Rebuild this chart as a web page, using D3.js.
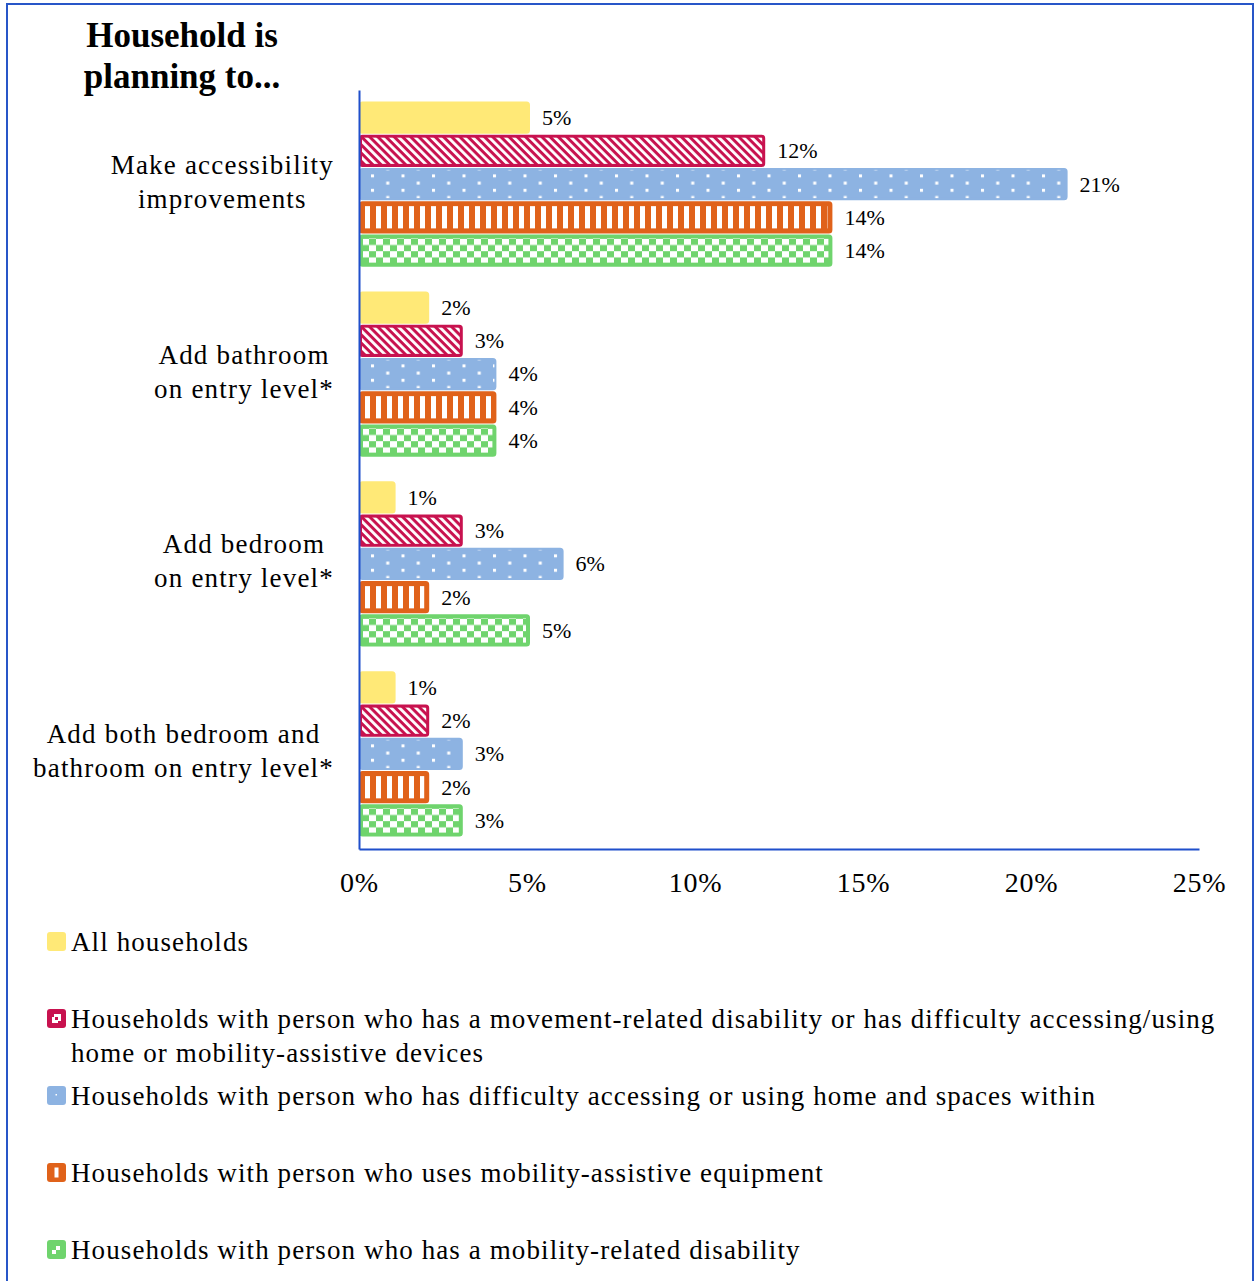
<!DOCTYPE html>
<html>
<head>
<meta charset="utf-8">
<script src="https://cdn.jsdelivr.net/npm/d3@7"></script>
<style>
  html, body { margin: 0; padding: 0; background: #fff; }
  svg { display: block; }
  text { font-family: "Liberation Serif", "Times New Roman", serif; fill: #000; }
</style>
</head>
<body>
<svg id="chart" width="1255" height="1281"></svg>
<script>
// Categories (line breaks marked with "\n")
const categories = [
  "Make accessibility\nimprovements",
  "Add bathroom\non entry level*",
  "Add bedroom\non entry level*",
  "Add both bedroom and\nbathroom on entry level*"
];

const seriesNames = [
  "All households",
  "Households with person who has a movement-related disability or has difficulty accessing/using home or mobility-assistive devices",
  "Households with person who has difficulty accessing or using home and spaces within",
  "Households with person who uses mobility-assistive equipment",
  "Households with person who has a mobility-related disability"
];

// Percent of households planning each change
const allHouseholds   = [5, 2, 1, 1];
const movementOrUse   = [12, 3, 3, 2];
const difficultyHome  = [21, 4, 6, 3];
const assistiveEquip  = [14, 4, 2, 2];
const mobilityDisab   = [14, 4, 5, 3];

const seriesValues = [allHouseholds, movementOrUse, difficultyHome, assistiveEquip, mobilityDisab];

const tickValues = [0, 5, 10, 15, 20, 25];

// Visual styling per series (swatch = small white mark inside the legend key)
const seriesStyle = [
  { color: "#FFE977", pattern: null,      inset: 0, swatch: null },
  { color: "#C8124F", pattern: "diag",    inset: 3, swatch: "hook" },
  { color: "#8DB3E2", pattern: "dots",    inset: 2, swatch: "dot" },
  { color: "#E0621A", pattern: "vstripe", inset: 5, swatch: "bar" },
  { color: "#6FD46D", pattern: "checker", inset: 4, swatch: "step" }
];

const axisBlue = "#1F4FCB";

const svg = d3.select("#chart");
const defs = svg.append("defs");

// Pattern definitions: white marks over the series colour
const pDiag = defs.append("pattern").attr("id", "diag")
  .attr("patternUnits", "userSpaceOnUse").attr("width", 5.8).attr("height", 5.8)
  .attr("patternTransform", "rotate(-45)");
pDiag.append("rect").attr("x", 0).attr("y", 0).attr("width", 2.8).attr("height", 5.8).attr("fill", "#fff");

const pDots = defs.append("pattern").attr("id", "dots")
  .attr("patternUnits", "userSpaceOnUse").attr("width", 30.5).attr("height", 14.4)
  .attr("x", 5).attr("y", 1);
pDots.append("rect").attr("x", 0).attr("y", 0).attr("width", 3).attr("height", 3).attr("fill", "#fff");
pDots.append("rect").attr("x", 15.25).attr("y", 7.2).attr("width", 3).attr("height", 3).attr("fill", "#fff");

const pStripe = defs.append("pattern").attr("id", "vstripe")
  .attr("patternUnits", "userSpaceOnUse").attr("width", 11).attr("height", 10)
  .attr("x", 365);
pStripe.append("rect").attr("x", 0).attr("y", 0).attr("width", 5).attr("height", 10).attr("fill", "#fff");

const pChecker = defs.append("pattern").attr("id", "checker")
  .attr("patternUnits", "userSpaceOnUse").attr("width", 14).attr("height", 12.4)
  .attr("x", 362).attr("y", 1);
pChecker.append("rect").attr("x", 0).attr("y", 0).attr("width", 7).attr("height", 6.2).attr("fill", "#fff");
pChecker.append("rect").attr("x", 7).attr("y", 6.2).attr("width", 7).attr("height", 6.2).attr("fill", "#fff");

// Frame
svg.append("rect")
  .attr("x", 7).attr("y", 4).attr("width", 1246).attr("height", 1300)
  .attr("fill", "none").attr("stroke", "#2856C8").attr("stroke-width", 2);

// Scales
const x = d3.scaleLinear().domain([0, 25]).range([359, 1199]);
const y = d3.scaleBand().domain(d3.range(categories.length))
  .range([90, 849]).paddingInner(0.125).paddingOuter(0.06);
const ys = d3.scaleBand().domain(d3.range(seriesNames.length))
  .range([0, y.bandwidth()]);

const barStroke = 3;

// Bars
const groups = svg.append("g").selectAll("g")
  .data(categories.map((c, i) => i))
  .join("g")
  .attr("transform", i => `translate(0,${y(i)})`);

groups.each(function(ci) {
  const g = d3.select(this);
  seriesValues.forEach((vals, si) => {
    const st = seriesStyle[si];
    const v = vals[ci];
    const by = ys(si);
    const bh = ys.bandwidth() - 1;
    const bw = x(v) - x(0);
    // outlined bar, outline in the same colour
    g.append("rect")
      .attr("x", x(0) + barStroke / 2).attr("y", by + barStroke / 2)
      .attr("width", bw).attr("height", bh - barStroke)
      .attr("rx", 2).attr("fill", st.color)
      .attr("stroke", st.color).attr("stroke-width", barStroke)
      .attr("stroke-linejoin", "round");
    if (st.pattern) {
      g.append("rect")
        .attr("x", x(0) + st.inset).attr("y", by + st.inset)
        .attr("width", Math.max(0, bw - 2 * st.inset + barStroke))
        .attr("height", bh - 2 * st.inset)
        .attr("fill", `url(#${st.pattern})`);
    }
    g.append("text")
      .attr("x", x(v) + 15)
      .attr("y", by + bh / 2 + 7.5)
      .attr("font-size", 22)
      .text(v + "%");
  });
});

// Axes
const xAxis = svg.append("g")
  .attr("transform", "translate(0,849)")
  .call(d3.axisBottom(x).tickValues(tickValues).tickFormat(d => d + "%").tickSize(0).tickPadding(0));
xAxis.select(".domain").attr("stroke", axisBlue).attr("stroke-width", 2);
xAxis.selectAll(".tick text")
  .attr("y", 43).attr("dy", null)
  .attr("font-size", 28).attr("letter-spacing", 0.8)
  .attr("font-family", "Liberation Serif, Times New Roman, serif").attr("fill", "#000");

const yAxis = svg.append("g")
  .attr("transform", "translate(359,0)")
  .call(d3.axisLeft(y).tickSize(0).tickFormat(""));
yAxis.select(".domain").attr("stroke", axisBlue).attr("stroke-width", 2);

// Category labels: multi-line, centred as a block right-aligned to the axis
const catRight = 334;
categories.forEach((c, i) => {
  const lines = c.split("\n");
  const cy = y(i) + y.bandwidth() / 2;
  const t = svg.append("g");
  const texts = lines.map((ln, li) => t.append("text")
    .attr("y", cy - 11 + li * 34)
    .attr("font-size", 27).attr("letter-spacing", 1.2)
    .attr("text-anchor", "middle")
    .text(ln));
  const maxW = d3.max(texts, tx => tx.node().getComputedTextLength());
  texts.forEach(tx => tx.attr("x", catRight - maxW / 2));
});

// Heading above the category labels
const heading = ["Household is", "planning to..."];
heading.forEach((ln, i) => {
  svg.append("text")
    .attr("x", 182).attr("y", 47 + i * 41)
    .attr("text-anchor", "middle")
    .attr("font-size", 35).attr("font-weight", "bold")
    .text(ln);
});

// Legend
const legendX = 47, legendTextX = 71, legendWrap = 1170;
const legendBaselines = [951, 1028, 1105, 1182, 1259];
// white marks drawn inside each 19x19 key (local coordinates)
const swatchMarks = {
  hook: "M7,5 h7 v7 h-3 v-4 h-4 z M5,8 h3 v3 h3 v3 h-6 z",
  dot:  "M8.5,8 h1.5 v1.5 h-1.5 z",
  bar:  "M7.5,4.5 h4 v10 h-4 z",
  step: "M5,10 h4 v-4 h4 v4 h-4 v4 h-4 z"
};
seriesNames.forEach((name, si) => {
  const st = seriesStyle[si];
  const base = legendBaselines[si];
  const g = svg.append("g");
  g.append("rect")
    .attr("x", legendX).attr("y", base - 19).attr("width", 19).attr("height", 19)
    .attr("rx", 3).attr("fill", st.color);
  if (st.swatch) {
    g.append("path")
      .attr("transform", `translate(${legendX},${base - 19})`)
      .attr("d", swatchMarks[st.swatch])
      .attr("fill", "#fff");
  }
  // word wrap
  const words = name.split(" ");
  let line = [];
  let lineNo = 0;
  let tx = g.append("text").attr("x", legendTextX).attr("y", base)
    .attr("font-size", 27).attr("letter-spacing", 1.1);
  words.forEach(w => {
    line.push(w);
    tx.text(line.join(" "));
    if (tx.node().getComputedTextLength() > legendWrap && line.length > 1) {
      line.pop();
      tx.text(line.join(" "));
      line = [w];
      lineNo++;
      tx = g.append("text").attr("x", legendTextX).attr("y", base + lineNo * 34)
        .attr("font-size", 27).attr("letter-spacing", 1.1).text(w);
    }
  });
});
</script>
</body>
</html>
